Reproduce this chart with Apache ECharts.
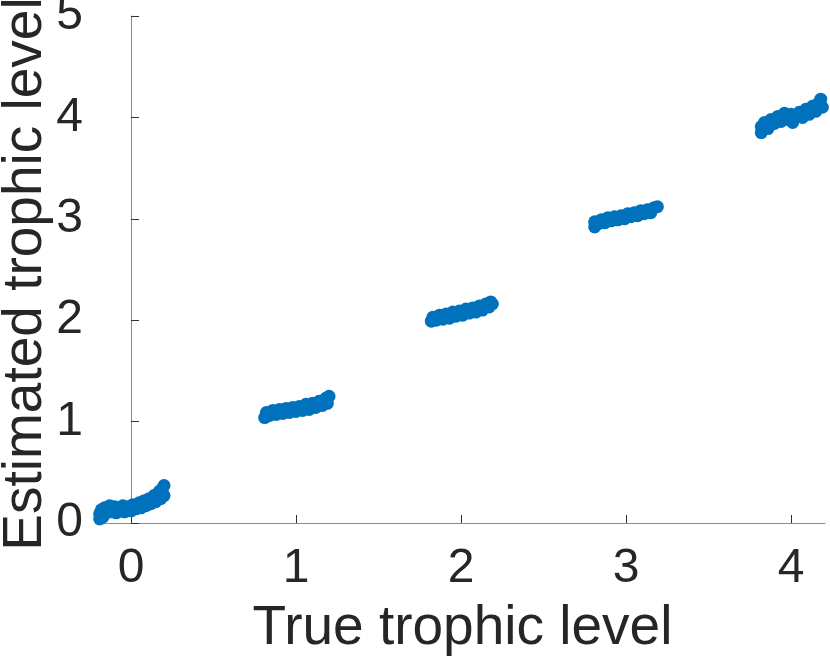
<!DOCTYPE html>
<html>
<head>
<meta charset="utf-8">
<script src="https://cdn.jsdelivr.net/npm/echarts@6/dist/echarts.min.js"></script>
<style>
  html, body { margin: 0; padding: 0; background: #fff; }
  #chart { width: 830px; height: 664px; }
</style>
</head>
<body>
<div id="chart"></div>
<script>
// [true level, estimated level] per group
var level0 = [[-0.19,0.04],[-0.19,0.09],[-0.18,0.13],[-0.17,0.06],[-0.16,0.15],[-0.15,0.10],[-0.13,0.17],[-0.12,0.11],[-0.10,0.16],[-0.09,0.10],[-0.07,0.14],[-0.05,0.17],[-0.04,0.11],[-0.02,0.16],[0.00,0.12],[0.01,0.18],[0.03,0.14],[0.05,0.20],[0.06,0.15],[0.08,0.22],[0.09,0.17],[0.11,0.24],[0.12,0.19],[0.14,0.27],[0.15,0.21],[0.17,0.31],[0.18,0.24],[0.19,0.34],[0.20,0.37],[0.20,0.27]];
var level1 = [[0.81,1.04],[0.82,1.09],[0.84,1.06],[0.86,1.11],[0.88,1.07],[0.90,1.12],[0.92,1.08],[0.94,1.13],[0.96,1.09],[0.98,1.14],[1.00,1.10],[1.02,1.15],[1.04,1.11],[1.06,1.17],[1.08,1.12],[1.10,1.18],[1.12,1.14],[1.14,1.20],[1.16,1.16],[1.18,1.23],[1.19,1.18],[1.20,1.25]];
var level2 = [[1.82,1.99],[1.83,2.03],[1.85,2.00],[1.87,2.05],[1.89,2.01],[1.91,2.06],[1.93,2.02],[1.95,2.08],[1.97,2.04],[1.99,2.09],[2.01,2.05],[2.03,2.11],[2.05,2.07],[2.07,2.12],[2.09,2.08],[2.11,2.14],[2.13,2.10],[2.15,2.16],[2.17,2.13],[2.18,2.18],[2.19,2.16]];
var level3 = [[2.81,2.92],[2.81,2.97],[2.83,2.95],[2.85,2.99],[2.87,2.96],[2.89,3.01],[2.91,2.98],[2.93,3.02],[2.95,2.99],[2.97,3.03],[2.99,3.00],[3.01,3.05],[3.03,3.02],[3.05,3.06],[3.07,3.03],[3.09,3.08],[3.11,3.05],[3.13,3.09],[3.15,3.06],[3.17,3.11],[3.19,3.12]];
var level4 = [[3.82,3.85],[3.82,3.91],[3.84,3.95],[3.86,3.89],[3.88,3.98],[3.90,3.94],[3.92,4.01],[3.94,3.96],[3.96,4.04],[3.98,3.98],[4.00,4.03],[4.01,3.95],[4.03,4.00],[4.05,4.05],[4.07,4.00],[4.09,4.08],[4.11,4.03],[4.13,4.11],[4.15,4.06],[4.16,4.13],[4.18,4.18],[4.19,4.10]];

var xTicks = [0, 1, 2, 3, 4];
var xName = 'True trophic level';
var yName = 'Estimated trophic level';

var myChart = echarts.init(document.getElementById('chart'));
var font = 'Liberation Sans, Arial, Helvetica, sans-serif';

var option = {
    animation: false,
    grid: { left: 100, right: 5, top: 16, bottom: 141, containLabel: false, outerBoundsMode: 'none' },
    // y-axis title drawn as rotated text so it sits where the original one does
    graphic: [{
        type: 'text',
        x: 26,
        y: 274,
        rotation: Math.PI / 2,
        style: {
            text: yName,
            fontFamily: font,
            fontSize: 55,
            fill: '#262626',
            align: 'center',
            verticalAlign: 'middle'
        }
    }],
    xAxis: {
        type: 'value',
        min: -0.188,
        max: 4.206,
        name: xName,
        nameLocation: 'middle',
        nameGap: 78,
        nameTextStyle: { fontFamily: font, fontSize: 55, color: '#262626' },
        axisLine: { show: true, lineStyle: { color: '#8a8a8a', width: 1 } },
        axisTick: { show: true, inside: true, length: 8, customValues: xTicks, lineStyle: { color: '#333' } },
        axisLabel: { customValues: xTicks, fontFamily: font, fontSize: 48, color: '#262626', margin: 22 },
        splitLine: { show: false }
    },
    yAxis: {
        type: 'value',
        min: 0,
        max: 5,
        interval: 1,
        axisLine: { show: true, lineStyle: { color: '#8a8a8a', width: 1 } },
        axisTick: { show: true, inside: true, length: 8, lineStyle: { color: '#333' } },
        axisLabel: { fontFamily: font, fontSize: 48, color: '#262626', margin: 17 },
        splitLine: { show: false }
    },
    series: [{
        type: 'scatter',
        clip: false,
        symbol: 'circle',
        symbolSize: 13,
        itemStyle: { color: '#0072BD', opacity: 1 },
        data: level0.concat(level1, level2, level3, level4)
    }]
};

myChart.setOption(option);
</script>
</body>
</html>
